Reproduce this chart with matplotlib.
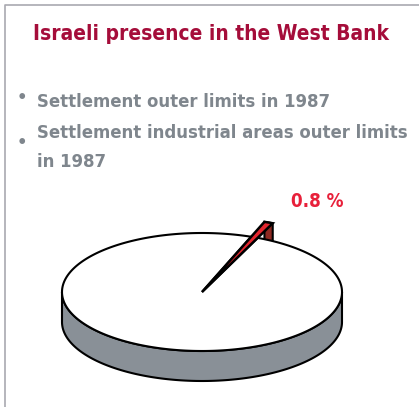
import numpy as np
import matplotlib.pyplot as plt
from matplotlib.patches import Polygon

plt.rcParams['font.family'] = ['DejaVu Sans']
plt.rcParams['font.stretch'] = 'condensed'
plt.rcParams['font.weight'] = 'bold'

title = "Israeli presence in the West Bank"
bullets = ["Settlement outer limits in 1987",
           "Settlement industrial areas outer limits\nin 1987"]
shares = [99.2, 0.8]          # rest of West Bank, settlement industrial areas (%)
share_label = "0.8 %"

# pie geometry in pixel units
cx, cy, a, b, depth = 202, 292, 140, 59, 30
small_mid = 68      # degrees, where the small slice points
explode = 0.27


def rim(theta, r=1.0, dz=0.0):
    t = np.radians(theta)
    return np.column_stack([cx + r * a * np.cos(t), cy - r * b * np.sin(t) + dz])


fig = plt.figure(figsize=(4.19, 4.07), dpi=100)
ax = fig.add_axes([0, 0, 1, 1])
ax.set_xlim(0, 419)
ax.set_ylim(407, 0)
ax.axis('off')

# frame
ax.plot([4.5, 4.5, 419], [407, 4.5, 4.5], color='#a9a9b0', lw=1.2)

span = 360 * shares[1] / sum(shares)
t1 = small_mid - span / 2
t2 = small_mid + span / 2

# side of the big slice (front half)
th = np.linspace(180, 360, 200)
side = np.vstack([rim(th), rim(th[::-1], dz=depth)])
ax.add_patch(Polygon(side, closed=True, fc='#899097', ec='black', lw=1.5, zorder=1))

# outer face of the exploded slice
ts = np.linspace(t1, t2, 20)
face = np.vstack([rim(ts, 1 + explode), rim(ts[::-1], 1 + explode, dz=depth)])
ax.add_patch(Polygon(face, closed=True, fc='#8e2a22', ec='black', lw=1.5, zorder=2))

# top of the big slice
tb = np.linspace(t2, t1 + 360, 400)
top = np.vstack([[cx, cy], rim(tb)])
ax.add_patch(Polygon(top, closed=True, fc='white', ec='black', lw=1.5, zorder=3))

# top of the small slice
small = np.vstack([[cx, cy], rim(ts, 1 + explode)])
ax.add_patch(Polygon(small, closed=True, fc='#e3262e', ec='black', lw=1.8, zorder=4))

ax.text(291, 207, share_label, color='#e8203a', fontsize=13.5,
        ha='left', va='baseline')

ax.text(33, 40, title, color='#a50d3a', fontsize=15,
        ha='left', va='baseline')

gray = '#7f868d'
ax.text(37, 107, bullets[0], color=gray, fontsize=13.2, ha='left', va='baseline')
for i, line in enumerate(bullets[1].split('\n')):
    ax.text(37, 138 + 29 * i, line, color=gray, fontsize=13.2, ha='left', va='baseline')
ax.text(22, 98, '•', color=gray, fontsize=13, ha='center', va='center')
ax.text(22, 143, '•', color=gray, fontsize=13, ha='center', va='center')

fig.savefig('out.png', dpi=100)
